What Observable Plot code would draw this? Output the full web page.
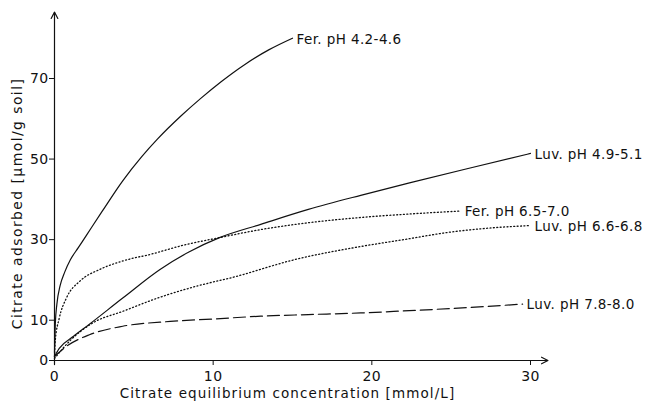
<!DOCTYPE html>
<html>
<head>
<meta charset="utf-8">
<script src="https://cdn.jsdelivr.net/npm/d3@7"></script>
<script src="https://cdn.jsdelivr.net/npm/@observablehq/plot@0.6"></script>
<style>
  html, body { margin: 0; padding: 0; background: #fff; }
</style>
</head>
<body>
<div id="chart"></div>
<script>
// Citrate adsorption isotherms for a Ferralsol (Fer.) and a Luvisol (Luv.) at different pH
const xTicks = [0, 10, 20, 30];
const yTicks = [0, 10, 30, 50, 70];
const xAxisEnd = 31.1;
const yAxisEnd = 86.5;
const xTitle = "Citrate equilibrium concentration [mmol/L]";
const yTitle = "Citrate adsorbed [\u03bcmol/g soil]";

// Fer. pH 4.2-4.6 (solid)
const ferAcidLabel = "Fer. pH 4.2-4.6";
const ferAcidX = [0, 0.05, 0.15, 0.35, 0.65, 1.0, 1.5, 2, 3, 4.3, 5.5, 6.5, 8, 9.2, 10.5, 12, 13.5, 15];
const ferAcidY = [2, 9, 14, 18.5, 22, 25, 28, 31, 37, 44.6, 50.6, 55, 60.8, 65, 69.2, 73.5, 77.1, 80];

// Luv. pH 4.9-5.1 (solid)
const luvAcidLabel = "Luv. pH 4.9-5.1";
const luvAcidX = [0, 0.3, 1.2, 2.2, 4.3, 6.65, 8.5, 10.4, 13, 16, 19.3, 22.5, 26, 30];
const luvAcidY = [1, 3, 6, 9, 15.5, 22.6, 27, 30.5, 33.8, 37.5, 41, 44.2, 47.6, 51.4];

// Fer. pH 6.5-7.0 (dotted)
const ferNeutralLabel = "Fer. pH 6.5-7.0";
const ferNeutralX = [0, 0.05, 0.3, 0.75, 1.6, 2.85, 4.3, 6.2, 8, 10.4, 13, 16, 19.3, 22.5, 25.6];
const ferNeutralY = [1, 5, 10.5, 15.5, 19.7, 22.6, 24.7, 26.5, 28.5, 30.5, 32.5, 34.2, 35.5, 36.4, 37.1];

// Luv. pH 6.6-6.8 (dotted)
const luvNeutralLabel = "Luv. pH 6.6-6.8";
const luvNeutralX = [0, 1, 2.4, 4.3, 6.65, 9, 11.3, 15.1, 19.3, 22, 25, 27.5, 30];
const luvNeutralY = [0.5, 5, 9.3, 12.2, 15.7, 18.5, 20.7, 25, 28.3, 30, 31.9, 32.9, 33.5];

// Luv. pH 7.8-8.0 (dashed)
const luvAlkalineLabel = "Luv. pH 7.8-8.0";
const luvAlkalineX = [0, 0.75, 2.2, 4.3, 7.3, 10, 13, 16, 19.3, 22, 25, 29.5];
const luvAlkalineY = [1, 3.5, 6.4, 8.5, 9.7, 10.3, 11, 11.4, 11.8, 12.3, 12.9, 14];

const series = [
  {label: ferAcidLabel, xs: ferAcidX, ys: ferAcidY, dash: null},
  {label: luvAcidLabel, xs: luvAcidX, ys: luvAcidY, dash: null},
  {label: ferNeutralLabel, xs: ferNeutralX, ys: ferNeutralY, dash: "1 2.4"},
  {label: luvNeutralLabel, xs: luvNeutralX, ys: luvNeutralY, dash: "1 2.4"},
  {label: luvAlkalineLabel, xs: luvAlkalineX, ys: luvAlkalineY, dash: "12 5"}
];

const toRows = (s) => s.xs.map((x, i) => ({x, y: s.ys[i], label: s.label}));
const endPoints = series.map((s) => ({x: s.xs[s.xs.length - 1], y: s.ys[s.ys.length - 1], label: s.label}));
const axes = [
  {x1: 0, y1: 0, x2: xAxisEnd, y2: 0},
  {x1: 0, y1: -1, x2: 0, y2: yAxisEnd}
];

const lineMarks = series.map((s) =>
  Plot.line(toRows(s), {
    x: "x", y: "y", curve: "monotone-x",
    stroke: "#111", strokeWidth: s.dash === "1 2.4" ? 1.3 : 1.2,
    strokeDasharray: s.dash ?? undefined
  })
);

const chart = Plot.plot({
  width: 647,
  height: 408,
  marginLeft: 54,
  marginRight: 117,
  marginTop: 78,
  marginBottom: 48,
  x: {domain: [0, 30]},
  y: {domain: [0, 70]},
  style: {fontFamily: "DejaVu Sans", fontSize: "14px", color: "#111", background: "#fff", letterSpacing: "0.4px"},
  marks: [
    Plot.arrow(axes, {x1: "x1", y1: "y1", x2: "x2", y2: "y2", stroke: "#111", strokeWidth: 1.2, headLength: 9, headAngle: 55}),
    Plot.axisX({ticks: xTicks, tickSize: 5, tickPadding: 6, fontSize: 14, label: null}),
    Plot.axisY({ticks: yTicks, tickSize: 5, tickPadding: 1, fontSize: 14, label: null}),
    ...lineMarks,
    Plot.text(endPoints, {x: "x", y: "y", text: "label", textAnchor: "start", dx: 4, dy: 1, fontSize: 13.5}),
    Plot.text([xTitle], {frameAnchor: "bottom", textAnchor: "middle", dx: -5, dy: 37, fontSize: 13.5}),
    Plot.text([yTitle], {frameAnchor: "left", textAnchor: "middle", rotate: -90, dx: -37, dy: -16, fontSize: 14})
  ]
});

// widen the letter spacing of the two axis titles
d3.select(chart).selectAll("text")
  .filter(function () { return this.textContent === xTitle; })
  .attr("letter-spacing", "1.1px");
d3.select(chart).selectAll("text")
  .filter(function () { return this.textContent === yTitle; })
  .attr("letter-spacing", "1.4px");

document.getElementById("chart").appendChild(chart);
</script>
</body>
</html>
